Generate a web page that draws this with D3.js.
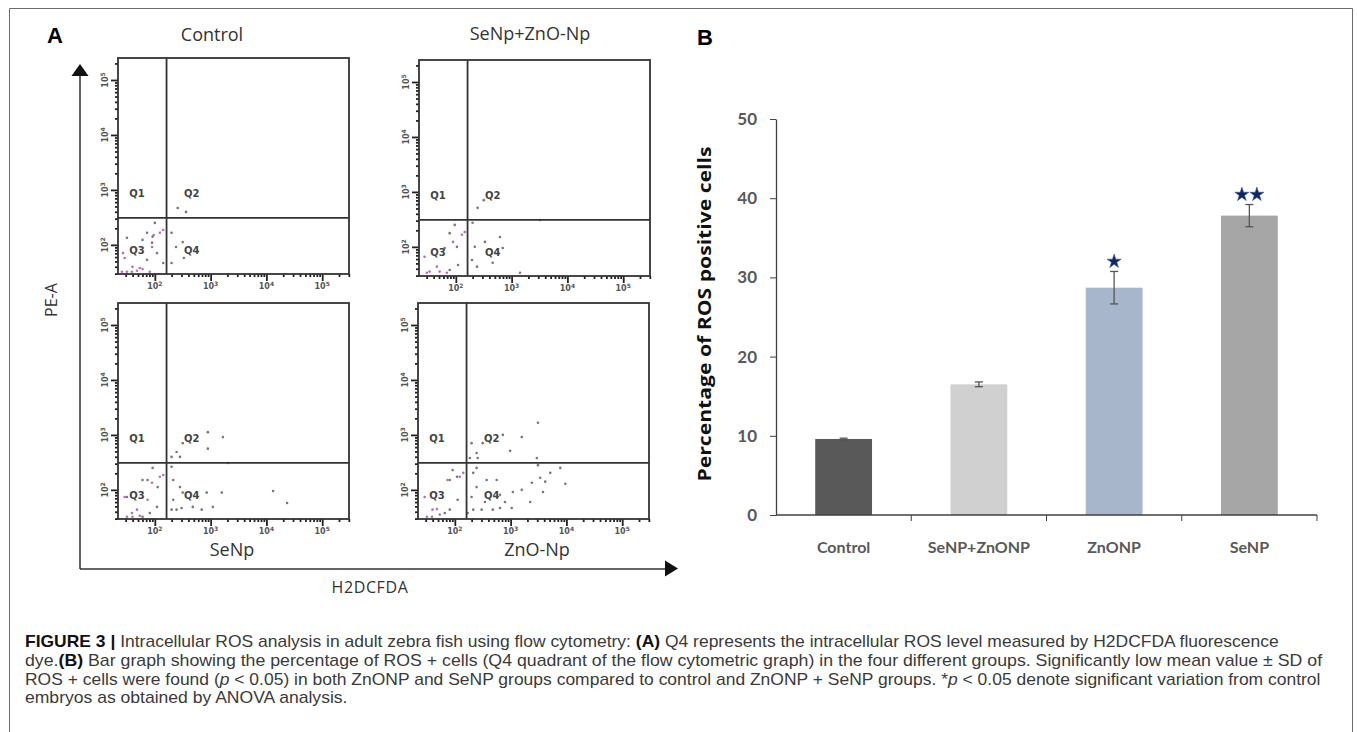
<!DOCTYPE html>
<html>
<head>
<meta charset="utf-8">
<script src="https://cdn.jsdelivr.net/npm/d3@7"></script>
<style>
  body { margin: 0; background: #fff; }
  svg { display: block; }
</style>
</head>
<body>
<div id="container"></div>
<script>
/* DATA */
// panel A - flow cytometry events, [log10 H2DCFDA, log10 PE-A]
const ctrlGray = [[2.41,2.67],[2.56,2.60],[2.50,2.05],[2.38,1.96],[2.52,1.76],[2.30,1.67],[2.30,2.22],
  [2.00,2.40],[1.86,2.22],[1.96,2.15],[1.78,2.09],[2.04,1.85],[1.86,1.73],[2.15,1.67],[1.95,2.04],[1.50,2.13]];
const ctrlPink = [[2.15,2.27],[2.09,2.22],[1.98,2.18],[1.95,1.96],[1.43,1.85],[1.46,1.76],[1.60,1.60],
  [1.73,1.58],[1.50,1.51],[1.59,1.51],[1.68,1.53],[1.78,1.56],[1.91,1.51],[1.41,1.51]];

const comboGray = [[2.39,2.71],[2.50,2.85],[2.30,2.44],[2.34,2.00],[2.52,2.09],[2.66,1.71],[2.79,2.18],
  [2.84,1.98],[2.29,1.76],[2.38,1.64],[3.51,2.49],[3.15,1.53],[1.98,2.40],[1.89,2.25],[2.02,2.00],
  [1.80,1.98],[1.89,1.58],[2.04,1.67]];
const comboPink = [[2.16,2.27],[2.11,2.22],[1.95,2.09],[1.44,1.82],[1.53,1.55],[1.66,1.64],[1.71,1.55],
  [1.84,1.53],[1.48,1.53]];

const senpGray = [[2.95,3.05],[3.22,2.96],[2.95,2.75],[2.50,2.85],[2.39,2.69],[2.45,2.60],[2.30,2.60],
  [2.30,2.42],[2.33,2.18],[2.45,2.05],[2.50,1.95],[2.93,1.95],[3.04,1.69],[3.20,1.95],[2.84,1.64],
  [2.68,1.69],[2.33,1.82],[2.39,1.64],[2.30,1.64],[2.48,1.67],[4.37,1.76],[4.12,1.98],[3.31,2.49],
  [1.96,2.40],[1.78,2.18],[1.87,2.18],[2.05,2.05],[2.04,1.69],[1.91,1.58],[1.78,1.51],[1.50,1.87]];
const senpPink = [[2.15,2.27],[2.09,2.24],[1.95,2.13],[1.46,1.87],[1.68,1.64],[1.59,1.58],[1.50,1.51],
  [1.60,1.51],[1.73,1.53],[1.87,1.82]];

const znoGray = [[3.49,3.22],[3.20,2.96],[2.86,3.00],[2.99,2.71],[2.50,2.85],[2.30,2.85],[2.39,2.67],
  [2.41,2.58],[2.27,2.58],[3.47,2.58],[3.49,2.45],[3.71,2.31],[3.53,2.22],[3.62,2.15],[3.58,1.96],
  [3.38,2.13],[3.20,2.00],[3.35,1.78],[3.02,1.67],[2.90,1.78],[2.81,1.91],[3.04,1.96],[2.75,2.18],
  [2.57,2.18],[2.39,2.05],[2.30,1.87],[2.33,1.64],[2.48,1.64],[2.54,1.78],[2.68,1.64],[2.23,1.58],
  [2.81,1.67],[3.98,2.11],[3.89,2.40],[2.39,2.40],[2.33,2.31],[2.04,2.24],[1.91,2.18],[1.96,2.36],
  [2.05,1.82],[1.82,1.58],[1.91,1.64]];
const znoPink = [[2.15,2.31],[2.09,2.24],[1.87,2.18],[1.46,1.87],[1.60,1.64],[1.68,1.65],[1.50,1.51],
  [1.59,1.51],[1.73,1.55]];

const panelTitles = ["Control", "SeNp+ZnO-Np", "SeNp", "ZnO-Np"];
const decades = [2, 3, 4, 5];
const quadLabels = [["Q1",1.68,2.95],["Q2",2.66,2.95],["Q3",1.68,1.90],["Q4",2.66,1.90]];
const gateX = 2.21, gateY = 2.49;

// panel B - bar graph
const groupsB = ["Control", "SeNP+ZnONP", "ZnONP", "SeNP"];
const meansB = [9.6, 16.5, 28.7, 37.8];
const sdB = [0.1, 0.3, 2.05, 1.4];
const starsB = [0, 0, 1, 2];
const yTicksB = [0, 10, 20, 30, 40, 50];
const colorsB = ["#595959", "#d0d0d0", "#a7b6ca", "#a6a6a6"];

const captionLines = [
  [["FIGURE 3 | ","b"],["Intracellular ROS analysis in adult zebra fish using flow cytometry: ",""],["(A)","b"],
   [" Q4 represents the intracellular ROS level measured by H2DCFDA fluorescence",""]],
  [["dye.",""],["(B)","b"],[" Bar graph showing the percentage of ROS + cells (Q4 quadrant of the flow cytometric graph) in the four different groups. Significantly low mean value \u00b1 SD of",""]],
  [["ROS + cells were found (",""],["p","i"],[" < 0.05) in both ZnONP and SeNP groups compared to control and ZnONP + SeNP groups. *",""],
   ["p","i"],[" < 0.05 denote significant variation from control",""]],
  [["embryos as obtained by ANOVA analysis.",""]]
];

/* SVG */
const W = 1357, H = 732;
const svg = d3.select("#container").append("svg")
    .attr("width", W)
    .attr("height", H)
    .style("background", "#fff");

// outer frame
svg.append("path")
    .attr("d", "M9.5,740V8.5H1352.5V740")
    .attr("fill", "none")
    .attr("stroke", "#6b6b6b")
    .attr("stroke-width", 1);

/* PANEL A */
svg.append("text")
    .attr("x", 47).attr("y", 43)
    .style("font-family", "Liberation Sans, Arial, sans-serif")
    .style("font-weight", "bold")
    .style("font-size", "22px")
    .text("A");

// big axis arrows
svg.append("path")
    .attr("d", "M80,569V74 M80,569H666")
    .attr("fill", "none")
    .attr("stroke", "#333")
    .attr("stroke-width", 1.5);
svg.append("path").attr("d", "M80,64L71.5,76H88.5Z").attr("fill", "#111");
svg.append("path").attr("d", "M678,568.5L665,560.5V576.5Z").attr("fill", "#111");

svg.append("text")
    .attr("transform", "translate(57,300) rotate(-90)")
    .attr("text-anchor", "middle")
    .style("font-family", "Open Sans, sans-serif")
    .style("font-size", "16px")
    .style("fill", "#333")
    .text("PE-A");
svg.append("text")
    .attr("x", 370).attr("y", 593)
    .attr("text-anchor", "middle")
    .style("font-family", "Open Sans, sans-serif")
    .style("font-size", "16px")
    .style("letter-spacing", "0.6px")
    .style("fill", "#333")
    .text("H2DCFDA");

const boxW = 231, boxH = 216;
const xLog = d3.scaleLog().domain([Math.pow(10, 1.34), Math.pow(10, 5.48)]).range([0, boxW]);
const yLog = d3.scaleLog().domain([Math.pow(10, 1.47), Math.pow(10, 5.40)]).range([boxH, 0]);
const px = v => xLog(Math.pow(10, v));
const py = v => yLog(Math.pow(10, v));
const isDecade = d => Math.abs(Math.log10(d) - Math.round(Math.log10(d))) < 1e-6;

const panels = [
  {title: panelTitles[0], x: 118, y: 58, tx: 212, ty: 41, gray: ctrlGray, pink: ctrlPink},
  {title: panelTitles[1], x: 419, y: 60, tx: 530, ty: 40, gray: comboGray, pink: comboPink},
  {title: panelTitles[2], x: 118, y: 303, tx: 232, ty: 556, gray: senpGray, pink: senpPink},
  {title: panelTitles[3], x: 418, y: 303, tx: 537, ty: 556, gray: znoGray, pink: znoPink}
];

panels.forEach(function(p) {
  svg.append("text")
      .attr("x", p.tx).attr("y", p.ty)
      .attr("text-anchor", "middle")
      .style("font-family", "Open Sans, sans-serif")
      .style("font-size", "18px")
      .style("fill", "#333")
      .text(p.title);

  const g = svg.append("g").attr("transform", "translate(" + p.x + "," + p.y + ")");

  // log axes with minor ticks
  const yAx = g.append("g")
      .call(d3.axisLeft(yLog).tickValues(yLog.ticks()).tickSize(3).tickFormat(""));
  const xAx = g.append("g")
      .attr("transform", "translate(0," + boxH + ")")
      .call(d3.axisBottom(xLog).tickValues(xLog.ticks()).tickSize(3).tickFormat(""));
  [yAx, xAx].forEach(function(ax) {
    ax.select(".domain").remove();
    ax.selectAll("line").attr("stroke", "#222").attr("stroke-width", 1.8);
  });
  yAx.selectAll(".tick line").filter(isDecade).attr("x2", -7);
  xAx.selectAll(".tick line").filter(isDecade).attr("y2", 7);

  decades.forEach(function(d) {
    const ty = g.append("text")
        .attr("transform", "translate(-10," + py(d) + ") rotate(-90)")
        .attr("text-anchor", "middle")
        .style("font-family", "DejaVu Sans, sans-serif")
        .style("font-size", "8px")
        .style("font-weight", "bold")
        .style("fill", "#555")
        .text("10");
    ty.append("tspan").attr("dy", -3).style("font-size", "6px").text(d);
    const tx = g.append("text")
        .attr("x", px(d)).attr("y", boxH + 15)
        .attr("text-anchor", "middle")
        .style("font-family", "DejaVu Sans, sans-serif")
        .style("font-size", "8px")
        .style("font-weight", "bold")
        .style("fill", "#555")
        .text("10");
    tx.append("tspan").attr("dy", -3).style("font-size", "6px").text(d);
  });

  // dots
  g.selectAll("circle.gray")
    .data(p.gray)
    .join("circle")
    .attr("class", "gray")
    .attr("cx", d => px(d[0]))
    .attr("cy", d => py(d[1]))
    .attr("r", 1.3)
    .attr("fill", "#777");
  g.selectAll("circle.pink")
    .data(p.pink)
    .join("circle")
    .attr("class", "pink")
    .attr("cx", d => px(d[0]))
    .attr("cy", d => py(d[1]))
    .attr("r", 1.3)
    .attr("fill", "#b470b4");

  // box and quadrant gates
  g.append("rect")
      .attr("width", boxW).attr("height", boxH)
      .attr("fill", "none")
      .attr("stroke", "#333")
      .attr("stroke-width", 1.8);
  g.append("line")
      .attr("x1", px(gateX)).attr("x2", px(gateX))
      .attr("y1", 0).attr("y2", boxH)
      .attr("stroke", "#333").attr("stroke-width", 1.8);
  g.append("line")
      .attr("x1", 0).attr("x2", boxW)
      .attr("y1", py(gateY)).attr("y2", py(gateY))
      .attr("stroke", "#333").attr("stroke-width", 1.8);

  g.selectAll("text.q")
    .data(quadLabels)
    .join("text")
    .attr("class", "q")
    .attr("x", d => px(d[1]))
    .attr("y", d => py(d[2]) + 4)
    .attr("text-anchor", "middle")
    .style("font-family", "DejaVu Sans, sans-serif")
    .style("font-size", "10px")
    .style("font-weight", "bold")
    .style("fill", "#444")
    .text(d => d[0]);
});

/* PANEL B */
svg.append("text")
    .attr("x", 697).attr("y", 45)
    .style("font-family", "Liberation Sans, Arial, sans-serif")
    .style("font-weight", "bold")
    .style("font-size", "22px")
    .text("B");

const yB = d3.scaleLinear().domain([0, 50]).range([515, 119]);
const xB = d3.scaleBand().domain(groupsB).range([776, 1317]).paddingInner(0.58).paddingOuter(0.29);

const yAxisB = svg.append("g")
    .attr("transform", "translate(776,0)")
    .call(d3.axisLeft(yB).tickValues(yTicksB).tickSize(6).tickPadding(13).tickSizeOuter(0));
yAxisB.selectAll("text")
    .style("font-family", "Lato, sans-serif")
    .style("font-weight", "bold")
    .style("font-size", "17px")
    .style("fill", "#595959");
yAxisB.selectAll("line").attr("stroke", "#404040");
yAxisB.select(".domain").attr("stroke", "#404040").attr("stroke-width", 1.3);

svg.append("text")
    .attr("transform", "translate(711,314) rotate(-90)")
    .attr("text-anchor", "middle")
    .attr("textLength", 335)
    .attr("lengthAdjust", "spacingAndGlyphs")
    .style("font-family", "Open Sans, sans-serif")
    .style("font-weight", "bold")
    .style("font-size", "18px")
    .style("fill", "#111")
    .text("Percentage of ROS positive cells");

// bars
svg.selectAll("rect.bar")
  .data(groupsB)
  .join("rect")
  .attr("class", "bar")
  .attr("x", d => xB(d))
  .attr("y", (d, i) => yB(meansB[i]))
  .attr("width", xB.bandwidth())
  .attr("height", (d, i) => yB(0) - yB(meansB[i]))
  .attr("fill", (d, i) => colorsB[i]);

// x axis with category boundary ticks
const gapB = xB.step() * xB.paddingInner() / 2;
svg.append("line")
    .attr("x1", 776).attr("x2", xB(groupsB[3]) + xB.bandwidth() + gapB)
    .attr("y1", yB(0)).attr("y2", yB(0))
    .attr("stroke", "#404040").attr("stroke-width", 1.3);
svg.selectAll("line.sep")
  .data(groupsB)
  .join("line")
  .attr("class", "sep")
  .attr("x1", d => xB(d) + xB.bandwidth() + gapB)
  .attr("x2", d => xB(d) + xB.bandwidth() + gapB)
  .attr("y1", yB(0)).attr("y2", yB(0) + 6)
  .attr("stroke", "#404040");
svg.selectAll("text.cat")
  .data(groupsB)
  .join("text")
  .attr("class", "cat")
  .attr("x", d => xB(d) + xB.bandwidth() / 2)
  .attr("y", 553)
  .attr("text-anchor", "middle")
  .style("font-family", "Lato, sans-serif")
  .style("font-weight", "bold")
  .style("font-size", "16px")
  .style("fill", "#595959")
  .text(d => d);

// error bars
const errG = svg.selectAll("g.err")
  .data(groupsB)
  .join("g")
  .attr("class", "err")
  .attr("transform", d => "translate(" + (xB(d) + xB.bandwidth() / 2) + ",0)")
  .attr("stroke", "#555")
  .attr("stroke-width", 1.3);
errG.append("line")
  .attr("y1", (d, i) => yB(meansB[i] + sdB[i]))
  .attr("y2", (d, i) => yB(meansB[i] - sdB[i]));
errG.append("line")
  .attr("x1", -4).attr("x2", 4)
  .attr("y1", (d, i) => yB(meansB[i] + sdB[i]))
  .attr("y2", (d, i) => yB(meansB[i] + sdB[i]));
errG.append("line")
  .attr("x1", -4).attr("x2", 4)
  .attr("y1", (d, i) => yB(meansB[i] - sdB[i]))
  .attr("y2", (d, i) => yB(meansB[i] - sdB[i]));

// significance stars
const star = d3.symbol().type(d3.symbolStar).size(62);
groupsB.forEach(function(d, i) {
  const cx = xB(d) + xB.bandwidth() / 2;
  const cy = yB(meansB[i] + sdB[i]) - 10;
  for (let k = 0; k < starsB[i]; k++) {
    const off = (k - (starsB[i] - 1) / 2) * 15;
    svg.append("path")
        .attr("d", star())
        .attr("transform", "translate(" + (cx + off) + "," + cy + ")")
        .attr("fill", "#10285a")
        .attr("stroke", "#3a5a9a")
        .attr("stroke-width", 0.6);
  }
});

/* CAPTION */
const capY = [647, 666, 685, 703];
const capW = [1254, 1298, 1296, null];
const capNodes = captionLines.map(function(line, li) {
  const t = svg.append("text")
      .attr("transform", "translate(25," + capY[li] + ")")
      .style("font-family", "Liberation Sans, Arial, sans-serif")
      .style("font-size", "16px")
      .style("fill", "#3a3a3a");
  line.forEach(function(seg) {
    const s = t.append("tspan").text(seg[0]);
    if (seg[1] === "b") s.style("font-weight", "bold").style("fill", "#111");
    if (seg[1] === "i") s.style("font-style", "italic");
  });
  return t;
});
const factors = [];
capNodes.forEach(function(t, i) {
  if (capW[i]) factors.push(capW[i] / t.node().getComputedTextLength());
});
const meanF = d3.mean(factors);
capNodes.forEach(function(t, i) {
  const f = capW[i] ? capW[i] / t.node().getComputedTextLength() : meanF;
  t.attr("transform", "translate(25," + capY[i] + ") scale(" + f + ",1)");
});
</script>
</body>
</html>
